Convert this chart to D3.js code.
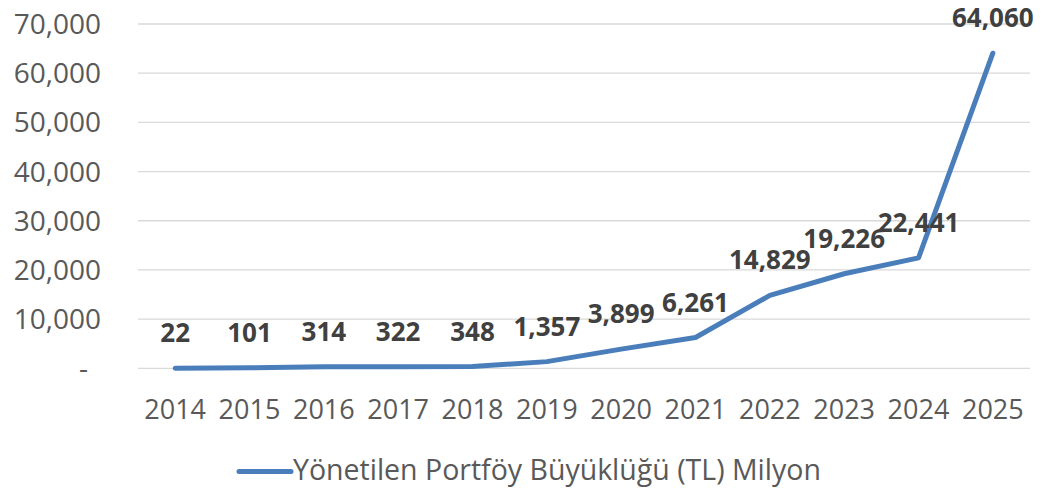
<!DOCTYPE html>
<html lang="tr">
<head>
<meta charset="UTF-8">
<script src="https://d3js.org/d3.v7.min.js"></script>
<style>
  body { margin: 0; background: #fff; }
  svg { display: block; font-family: "Open Sans", sans-serif; }
</style>
</head>
<body>
<script>
// data
const years = ['2014', '2015', '2016', '2017', '2018', '2019', '2020', '2021', '2022', '2023', '2024', '2025'];
const values = [22, 101, 314, 322, 348, 1357, 3899, 6261, 14829, 19226, 22441, 64060];
const yTicks = [0, 10000, 20000, 30000, 40000, 50000, 60000, 70000];
const seriesName = 'Yönetilen Portföy Büyüklüğü (TL) Milyon';

const W = 1057, H = 489;
const svg = d3.select('body').append('svg')
    .attr('width', W)
    .attr('height', H);

const x = d3.scalePoint()
    .domain(years)
    .range([138, 1030])
    .padding(0.5);

const y = d3.scaleLinear()
    .domain([0, 70000])
    .range([368.3, 24]);

const fmt = d3.format(',');

// gridlines
svg.append('g')
    .selectAll('line')
    .data(yTicks)
    .join('line')
    .attr('x1', 138)
    .attr('x2', 1030)
    .attr('y1', d => y(d))
    .attr('y2', d => y(d))
    .attr('stroke', '#d9d9d9')
    .attr('stroke-width', 1.3);

// y labels
svg.append('g')
    .selectAll('text')
    .data(yTicks)
    .join('text')
    .attr('x', d => d === 0 ? 88 : 101)
    .attr('y', d => y(d))
    .attr('dy', '0.36em')
    .attr('text-anchor', 'end')
    .attr('fill', '#595959')
    .attr('font-size', 28)
    .text(d => d === 0 ? '-' : fmt(d));

// x labels
svg.append('g')
    .selectAll('text')
    .data(years)
    .join('text')
    .attr('x', d => x(d))
    .attr('y', 419)
    .attr('text-anchor', 'middle')
    .attr('fill', '#595959')
    .attr('font-size', 27)
    .text(d => d);

// line
const line = d3.line()
    .x((d, i) => x(years[i]))
    .y(d => y(d));

svg.append('path')
    .datum(values)
    .attr('d', line)
    .attr('fill', 'none')
    .attr('stroke', '#4a7ebb')
    .attr('stroke-width', 5)
    .attr('stroke-linejoin', 'round')
    .attr('stroke-linecap', 'round');

// data labels
svg.append('g')
    .selectAll('text')
    .data(values)
    .join('text')
    .attr('x', (d, i) => x(years[i]))
    .attr('y', d => y(d) - 26)
    .attr('text-anchor', 'middle')
    .attr('fill', '#404040')
    .attr('font-size', 26)
    .attr('font-weight', 'bold')
    .text(d => fmt(d));

// legend
const leg = svg.append('g');
leg.append('line')
    .attr('x1', 239)
    .attr('x2', 291)
    .attr('y1', 471.5)
    .attr('y2', 471.5)
    .attr('stroke', '#4a7ebb')
    .attr('stroke-width', 5)
    .attr('stroke-linecap', 'round');
leg.append('text')
    .attr('x', 293)
    .attr('y', 480)
    .attr('fill', '#595959')
    .attr('font-size', 28.5)
    .text(seriesName);
</script>
</body>
</html>
